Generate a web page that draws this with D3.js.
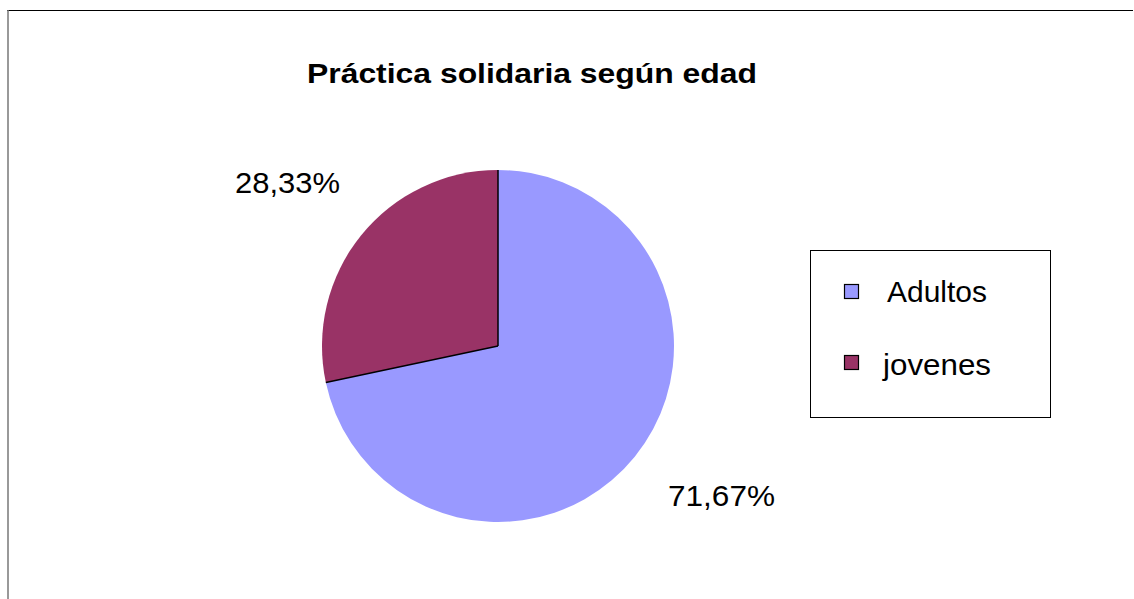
<!DOCTYPE html>
<html>
<head>
<meta charset="utf-8">
<script src="https://cdn.jsdelivr.net/npm/d3@7"></script>
<style>
  body { margin: 0; background: #fff; }
  svg { display: block; font-family: "Liberation Sans", Arial, sans-serif; }
</style>
</head>
<body>
<svg id="chart" width="1134" height="599"></svg>
<script>
// DATA
const categories = ["Adultos", "jovenes"];
const values = [71.67, 28.33];
const pctLabels = ["71,67%", "28,33%"];
const colors = ["#9999ff", "#993366"];
const title = "Práctica solidaria según edad";

const svg = d3.select("#chart");

// frame (top + left edge visible)
svg.append("line")
  .attr("x1", 7).attr("x2", 1133).attr("y1", 10.5).attr("y2", 10.5)
  .attr("stroke", "#000").attr("stroke-width", 1);
svg.append("line")
  .attr("x1", 8).attr("x2", 8).attr("y1", 10).attr("y2", 599)
  .attr("stroke", "#777").attr("stroke-width", 1.5);

svg.append("text")
  .attr("x", 307).attr("y", 83)
  .attr("font-size", 28).attr("font-weight", "bold")
  .attr("textLength", 450).attr("lengthAdjust", "spacingAndGlyphs")
  .text(title);

// PIE
const cx = 498, cy = 346, r = 176;
const pie = d3.pie().sort(null).value(d => d)(values);
const arc = d3.arc().innerRadius(0).outerRadius(r);

const g = svg.append("g").attr("transform", `translate(${cx},${cy})`);

g.selectAll("path.slice")
  .data(pie)
  .join("path")
  .attr("class", "slice")
  .attr("d", arc)
  .attr("fill", (d, i) => colors[i]);

// radial edges only (outer arc has no outline)
const edgeAngles = pie.map(d => d.startAngle);
g.selectAll("line.edge")
  .data(edgeAngles)
  .join("line")
  .attr("class", "edge")
  .attr("x1", 0).attr("y1", 0)
  .attr("x2", a => r * Math.sin(a))
  .attr("y2", a => -r * Math.cos(a))
  .attr("stroke", "#000").attr("stroke-width", 1.5);

// percentage labels
const labelPos = [[170, 160], [-263, -153]];
const labelW = [107, 105];
g.selectAll("text.pct")
  .data(pie)
  .join("text")
  .attr("class", "pct")
  .attr("x", (d, i) => labelPos[i][0])
  .attr("y", (d, i) => labelPos[i][1])
  .attr("font-size", 30)
  .attr("textLength", (d, i) => labelW[i])
  .attr("lengthAdjust", "spacingAndGlyphs")
  .text((d, i) => pctLabels[i]);

// LEGEND
const legend = svg.append("g");
legend.append("rect")
  .attr("x", 810.5).attr("y", 250.5).attr("width", 240).attr("height", 167)
  .attr("fill", "#fff").attr("stroke", "#000").attr("stroke-width", 1);

const legendW = [100, 108];
const item = legend.selectAll("g.item")
  .data(categories)
  .join("g")
  .attr("class", "item")
  .attr("transform", (d, i) => `translate(844,${284 + i * 71})`);

item.append("rect")
  .attr("x", 0.5).attr("y", 0.5).attr("width", 14).attr("height", 14)
  .attr("fill", (d, i) => colors[i])
  .attr("stroke", "#000").attr("stroke-width", 1.2);

item.append("text")
  .attr("x", (d, i) => i === 0 ? 43 : 39).attr("y", (d, i) => i === 0 ? 18 : 20)
  .attr("font-size", 30)
  .attr("textLength", (d, i) => legendW[i])
  .attr("lengthAdjust", "spacingAndGlyphs")
  .text(d => d);
</script>
</body>
</html>
